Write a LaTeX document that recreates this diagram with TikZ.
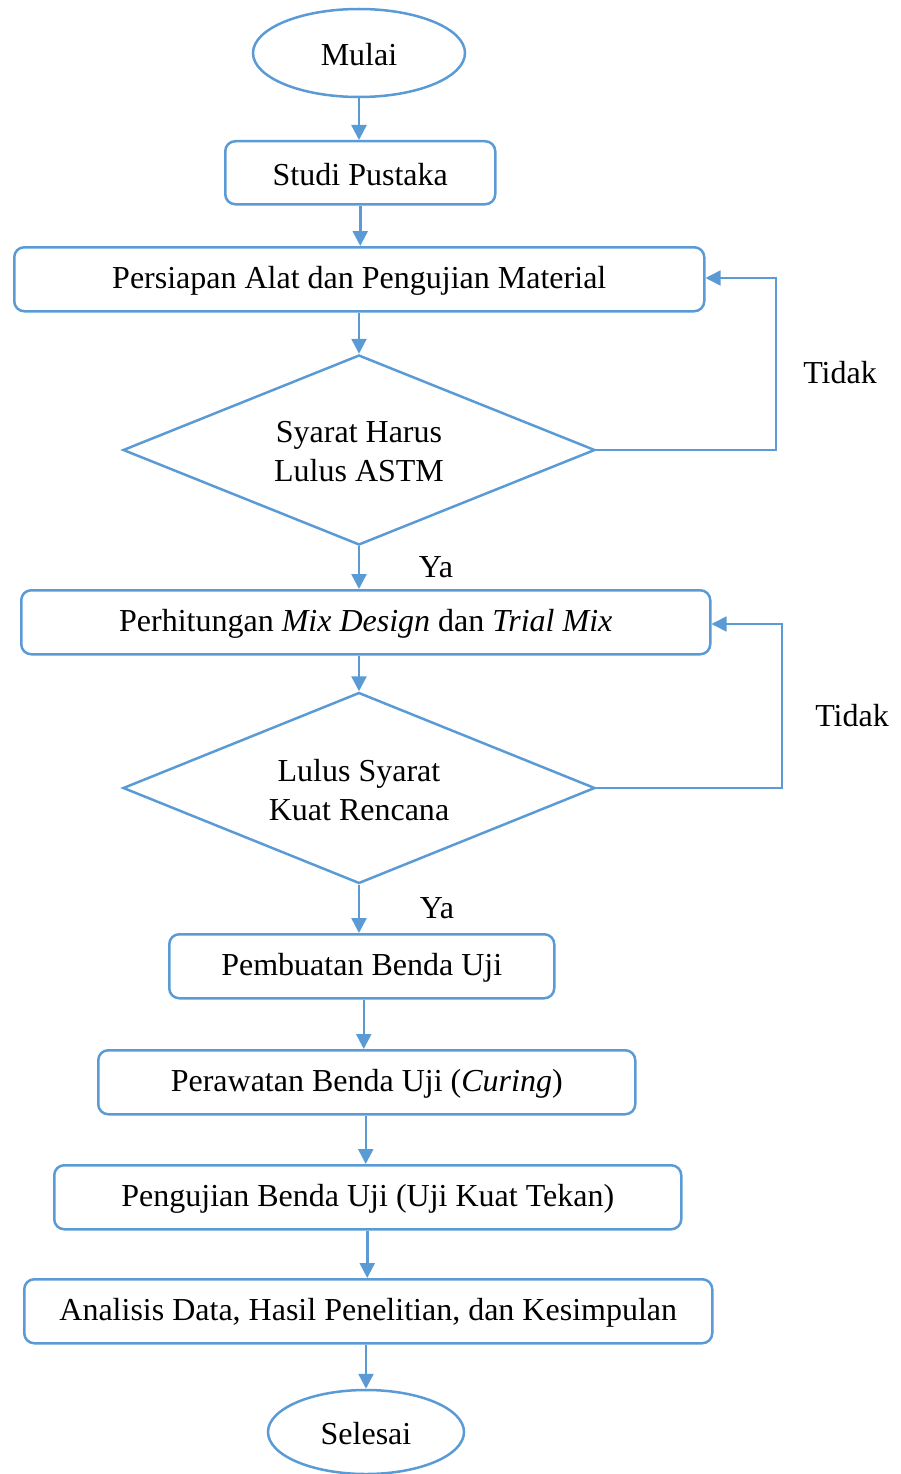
\documentclass[tikz,border=0pt]{standalone}
\usepackage{fontspec}
\setmainfont{Liberation Serif}
\usetikzlibrary{shapes.geometric,arrows.meta}
\definecolor{fblue}{RGB}{91,155,213}
\tikzset{
  every node/.style={font=\fontsize{32}{39}\selectfont, text=black},
  procbox/.style={draw=fblue, line width=2.5pt, rounded corners=10pt, inner sep=0pt, anchor=north west},
  term/.style={draw=fblue, line width=2.5pt, ellipse, inner sep=0pt},
  decide/.style={draw=fblue, line width=2.5pt, diamond, inner sep=0pt, align=center},
  flow/.style={draw=fblue, line width=2.5pt, -{Triangle[length=15pt,width=15pt]}},
  loopline/.style={draw=fblue, line width=1.6pt, -{Triangle[length=15pt,width=15pt]}},
  lbl/.style={inner sep=0pt},
  txt/.style={yshift=-2pt, align=center}
}
\begin{document}
\begin{tikzpicture}[x=1pt,y=-1pt]
\useasboundingbox (0,0) rectangle (901,1474);
\node[term, minimum width=212pt, minimum height=88pt] (mulai) at (359,53) {};
\node[txt] at (mulai.center) {Mulai};
\node[procbox, minimum width=270pt, minimum height=63pt] (studi) at (224,140) {};
\node[txt] at (studi.center) {Studi Pustaka};
\node[procbox, minimum width=690pt, minimum height=64pt] (persiapan) at (13,246) {};
\node[txt] at (persiapan.center) {Persiapan Alat dan Pengujian Material};
\node[decide, minimum width=472pt, minimum height=190pt] (d1) at (359,450) {};
\node[txt] at (d1.center) {Syarat Harus\\Lulus ASTM};
\node[procbox, minimum width=689pt, minimum height=64pt] (hitung) at (20,589) {};
\node[txt] at (hitung.center) {Perhitungan \textit{Mix Design} dan \textit{Trial Mix}};
\node[decide, minimum width=472pt, minimum height=191pt] (d2) at (359,788) {};
\node[txt] at (d2.center) {Lulus Syarat\\Kuat Rencana};
\node[procbox, minimum width=385pt, minimum height=64pt] (buat) at (168,933) {};
\node[txt] at (buat.center) {Pembuatan Benda Uji};
\node[procbox, minimum width=537pt, minimum height=64pt] (rawat) at (97,1049) {};
\node[txt] at (rawat.center) {Perawatan Benda Uji (\textit{Curing})};
\node[procbox, minimum width=627pt, minimum height=64pt] (uji) at (53,1164) {};
\node[txt] at (uji.center) {Pengujian Benda Uji (Uji Kuat Tekan)};
\node[procbox, minimum width=688pt, minimum height=64pt] (analisis) at (23,1278) {};
\node[txt] at (analisis.center) {Analisis Data, Hasil Penelitian, dan Kesimpulan};
\node[term, minimum width=196pt, minimum height=84pt] (selesai) at (366,1432) {};
\node[txt] at (selesai.center) {Selesai};

\coordinate (l1a) at (776,450);
\coordinate (l1b) at (776,278);
\coordinate (l2a) at (782,788);
\coordinate (l2b) at (782,624);

\draw[flow] (mulai.south) -- (mulai.south |- studi.north);
\draw[flow] (studi.south) -- (studi.south |- persiapan.north);
\draw[flow] (persiapan.south -| d1.north) -- (d1.north);
\draw[flow] (d1.south) -- (d1.south |- hitung.north);
\draw[flow] (hitung.south -| d2.north) -- (d2.north);
\draw[flow] (d2.south) -- (d2.south |- buat.north);
\draw[flow] ([xshift=2pt]buat.south) -- ([xshift=2pt]buat.south |- rawat.north);
\draw[flow] ([xshift=-1pt]rawat.south) -- ([xshift=-1pt]rawat.south |- uji.north);
\draw[flow] ([xshift=-0.5pt]uji.south) -- ([xshift=-0.5pt]uji.south |- analisis.north);
\draw[flow] (selesai.north |- analisis.south) -- (selesai.north);

\draw[loopline] (d1.east) -- (l1a) -- (l1b) -- (l1b -| persiapan.east);
\draw[loopline] (d2.east) -- (l2a) -- (l2b) -- (l2b -| hitung.east);

\node[lbl] (tidak1) at (840,373) {Tidak};
\node[lbl] (tidak2) at (852,716) {Tidak};
\node[lbl] (ya1) at (436,567) {Ya};
\node[lbl] (ya2) at (437,908) {Ya};
\end{tikzpicture}
\end{document}
